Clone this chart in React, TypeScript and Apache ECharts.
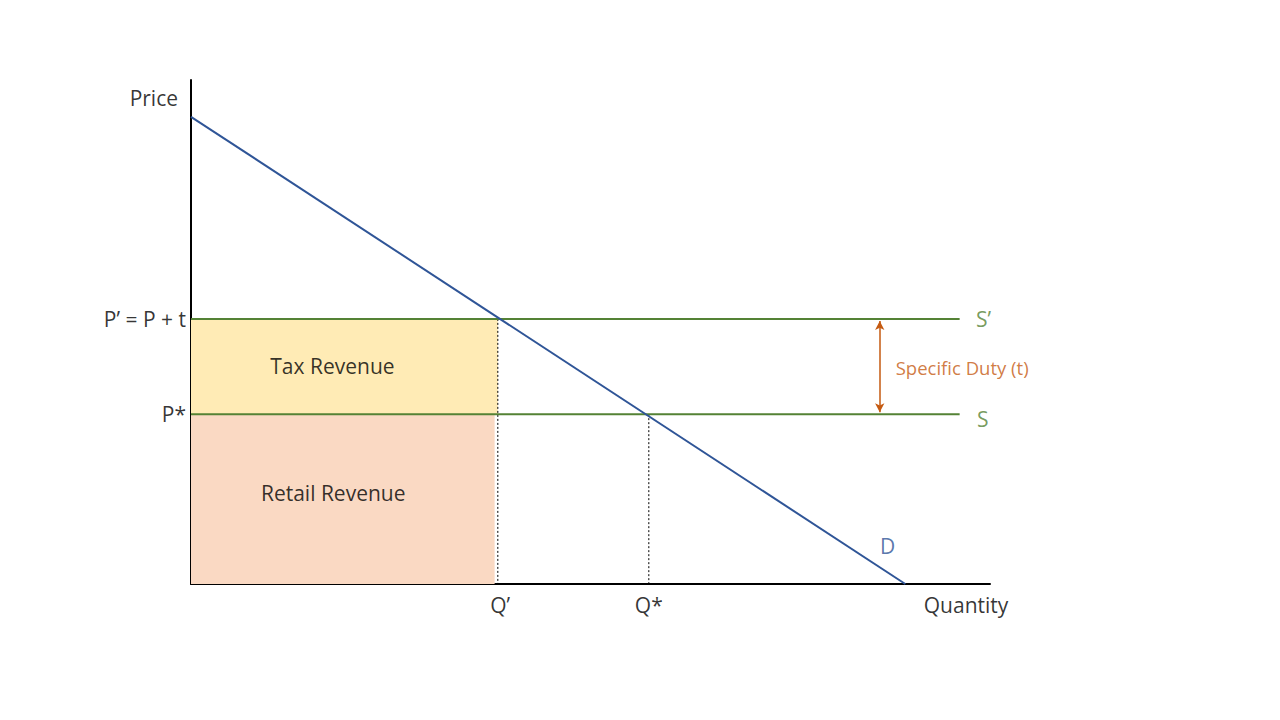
import React, { useEffect, useRef } from "react";
import * as echarts from "echarts";

// Economic quantities (chart units)
const demandPoints: [number, number][] = [[0, 9.27], [8.94, 0]];
const pTax = 5.26; // P' = P + t
const pStar = 3.37; // P*
const qTax = 3.84; // Q'
const qStar = 5.73; // Q*
const supplyEnd = 9.62;
const retailEnd = 3.8;
const dutyX = 8.62;

// Text annotations
const leftLabels: [string, number][] = [["Price", 9.64], ["P\u2019 = P + t", pTax], ["P*", pStar]];
const bottomLabels: [string, number][] = [["Q\u2019", 3.87], ["Q*", qStar], ["Quantity", 9.7]];
const curveLabels: [string, number, number, string][] = [
  ["D", 8.72, 0.75, "#2F5597"],
  ["S\u2019", 9.92, pTax, "#548235"],
  ["S", 9.91, 3.27, "#548235"],
  ["Tax Revenue", 1.77, 4.33, "#000000"],
  ["Retail Revenue", 1.78, 1.81, "#000000"],
];
const dutyLabel: [string, number, number] = ["Specific Duty (t)", 8.82, 4.29];

const FONT = "'Open Sans', 'Noto Sans', sans-serif";

export default function App() {
  const ref = useRef<HTMLDivElement>(null);
  useEffect(() => {
    if (!ref.current) return;
    const chart = echarts.init(ref.current, null, { renderer: "svg" });
    const green = "#548235";
    chart.setOption({
      animation: false,
      backgroundColor: "#ffffff",
      grid: { left: 191, top: 80, width: 799, height: 504, containLabel: false },
      xAxis: {
        type: "value", min: 0, max: 10,
        axisLine: { show: true, lineStyle: { color: "#000", width: 2 } },
        axisTick: { show: false }, axisLabel: { show: false }, splitLine: { show: false },
      },
      yAxis: {
        type: "value", min: 0, max: 10,
        axisLine: { show: true, lineStyle: { color: "#000", width: 2 } },
        axisTick: { show: false }, axisLabel: { show: false }, splitLine: { show: false },
      },
      series: [
        {
          type: "line", data: [], silent: true,
          markArea: {
            silent: true,
            data: [
              [{ coord: [0, pTax], itemStyle: { color: "#FFEBB5" } }, { coord: [qTax, pStar] }],
              [{ coord: [0, pStar], itemStyle: { color: "#FAD9C3" } }, { coord: [retailEnd, 0] }],
            ],
          },
        },
        {
          type: "line", data: [[qTax, pTax], [qTax, 0]], symbol: "none",
          lineStyle: { color: "#000", width: 1, type: [2, 2] }, z: 3,
        },
        {
          type: "line", data: [[qStar, pStar], [qStar, 0]], symbol: "none",
          lineStyle: { color: "#000", width: 1, type: [2, 2] }, z: 3,
        },
        {
          type: "line", data: [[0, pTax], [supplyEnd, pTax]], symbol: "none",
          lineStyle: { color: green, width: 2 }, z: 4,
        },
        {
          type: "line", data: [[0, pStar], [supplyEnd, pStar]], symbol: "none",
          lineStyle: { color: green, width: 2 }, z: 4,
        },
        {
          type: "line", data: demandPoints, symbol: "none",
          lineStyle: { color: "#2F5597", width: 2 }, z: 5,
          markLine: {
            silent: true, symbol: ["arrow", "arrow"], symbolSize: [7, 9],
            lineStyle: { color: "#C55A11", width: 1.5, type: "solid" },
            label: { show: false },
            data: [[{ coord: [dutyX, pTax - 0.04] }, { coord: [dutyX, pStar + 0.04] }]],
          },
        },
        {
          type: "scatter", symbolSize: 0, clip: false, z: 6,
          data: leftLabels.map(([t, y], i) => ({
            value: [0, y], name: t,
            label: i === 0 ? { distance: 13 } : {},
          })),
          label: { show: true, position: "left", distance: 5, formatter: "{b}", color: "#000", fontSize: 21, fontFamily: FONT },
        },
        {
          type: "scatter", symbolSize: 0, clip: false, z: 6,
          data: bottomLabels.map(([t, x]) => ({ value: [x, 0], name: t })),
          label: { show: true, position: "bottom", distance: 10, formatter: "{b}", color: "#000", fontSize: 21, fontFamily: FONT },
        },
        {
          type: "scatter", symbolSize: 0, clip: false, z: 6,
          data: curveLabels.map(([t, x, y, c]) => ({ value: [x, y], name: t, label: { color: c } })),
          label: { show: true, position: "inside", formatter: "{b}", fontSize: 21, fontFamily: FONT },
        },
        {
          type: "scatter", symbolSize: 0, clip: false, z: 6,
          data: [{ value: [dutyLabel[1], dutyLabel[2]], name: dutyLabel[0] }],
          label: { show: true, position: "right", distance: 0, formatter: "{b}", color: "#C55A11", fontSize: 18.5, fontFamily: FONT },
        },
      ],
    });
    return () => chart.dispose();
  }, []);
  return <div ref={ref} style={{ position: "fixed", left: 0, top: 0, width: 1280, height: 720 }} />;
}
